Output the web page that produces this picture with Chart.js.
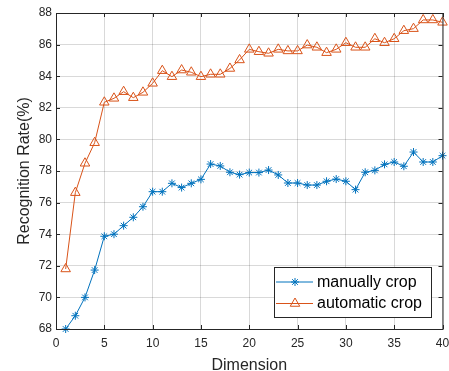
<!DOCTYPE html>
<html>
<head>
<meta charset="utf-8">
<script src="https://cdn.jsdelivr.net/npm/chart.js@4.4.1/dist/chart.umd.min.js"></script>
<style>
  html, body { margin: 0; padding: 0; background: #fff; }
  #wrap { width: 449px; height: 371px; position: relative; }
</style>
</head>
<body>
<div id="wrap"><canvas id="rateChart"></canvas></div>
<script>
// dimensions 1..40
const dims = [1, 2, 3, 4, 5, 6, 7, 8, 9, 10, 11, 12, 13, 14, 15, 16, 17, 18, 19, 20,
  21, 22, 23, 24, 25, 26, 27, 28, 29, 30, 31, 32, 33, 34, 35, 36, 37, 38, 39, 40]

const manualCrop = [68.0, 68.84, 70.0, 71.73, 73.87, 74.0, 74.54, 75.07, 75.74, 76.69,
  76.69, 77.22, 76.95, 77.22, 77.47, 78.44, 78.32, 77.92, 77.77, 77.9,
  77.9, 78.06, 77.75, 77.24, 77.24, 77.11, 77.11, 77.35, 77.49, 77.35,
  76.82, 77.92, 78.04, 78.42, 78.57, 78.3, 79.2, 78.57, 78.57, 78.97]

const automaticCrop = [71.8, 76.63, 78.49, 79.79, 82.35, 82.6, 83.02, 82.64, 82.98, 83.55,
  84.35, 83.97, 84.39, 84.25, 83.97, 84.12, 84.12, 84.49, 85.03, 85.7,
  85.55, 85.45, 85.7, 85.6, 85.6, 85.97, 85.83, 85.49, 85.7, 86.12,
  85.83, 85.83, 86.37, 86.12, 86.37, 86.88, 87.01, 87.56, 87.56, 87.41]

const seriesNames = ['manually crop', 'automatic crop']

const COLORS = {
  blue: '#0072BD',
  orange: '#D95319',
  axis: '#262626',
  grid: 'rgba(0,0,0,0.15)',
}
const FONT = "'Liberation Sans', Arial, sans-serif"

function drawMarker(ctx, ds, x, y) {
  ctx.save()
  ctx.strokeStyle = ds.borderColor
  ctx.fillStyle = 'rgba(0,0,0,0)'
  ctx.lineWidth = 1
  Chart.helpers.drawPoint(ctx, { pointStyle: ds.pointStyle, radius: ds.pointRadius, borderWidth: 1, rotation: 0 }, x, y)
  ctx.restore()
}

// box around the axes + inward ticks on all four sides, legend inside
const boxPlugin = {
  id: 'box',
  afterDatasetsDraw(chart) {
    const { ctx, chartArea: a, scales } = chart
    ctx.save()
    ctx.strokeStyle = COLORS.axis
    ctx.lineWidth = 1
    ctx.strokeRect(a.left + 0.5, a.top + 0.5, a.right - a.left, a.bottom - a.top)
    ctx.beginPath()
    scales.x.ticks.forEach(t => {
      const px = Math.round(scales.x.getPixelForValue(t.value)) + 0.5
      ctx.moveTo(px, a.bottom); ctx.lineTo(px, a.bottom - 4)
      ctx.moveTo(px, a.top); ctx.lineTo(px, a.top + 4)
    })
    scales.y.ticks.forEach(t => {
      const py = Math.round(scales.y.getPixelForValue(t.value)) + 0.5
      ctx.moveTo(a.left, py); ctx.lineTo(a.left + 4, py)
      ctx.moveTo(a.right, py); ctx.lineTo(a.right - 4, py)
    })
    ctx.stroke()
    ctx.restore()
  },
  afterDraw(chart) {
    const { ctx } = chart
    const bx = 274.5, by = 267.5, bw = 157, bh = 50
    ctx.save()
    ctx.fillStyle = '#fff'
    ctx.fillRect(bx, by, bw, bh)
    ctx.strokeStyle = COLORS.axis
    ctx.lineWidth = 1
    ctx.strokeRect(bx, by, bw, bh)
    chart.data.datasets.forEach((ds, i) => {
      const y = 282 + i * 21.5
      ctx.strokeStyle = ds.borderColor
      ctx.lineWidth = 1
      ctx.beginPath(); ctx.moveTo(276, y); ctx.lineTo(313, y); ctx.stroke()
      drawMarker(ctx, ds, 295, y)
      ctx.fillStyle = '#000'
      ctx.font = '16px ' + FONT
      ctx.textBaseline = 'middle'
      ctx.textAlign = 'left'
      ctx.fillText(ds.label, 317, y + 0.5)
    })
    ctx.restore()
  },
}

new Chart(document.getElementById('rateChart'), {
  type: 'line',
  data: {
    labels: dims,
    datasets: [
      {
        label: seriesNames[0],
        data: dims.map((d, i) => ({ x: d, y: manualCrop[i] })),
        borderColor: COLORS.blue,
        backgroundColor: 'rgba(0,0,0,0)',
        borderWidth: 1,
        pointStyle: 'star',
        pointRadius: 4,
        pointBorderWidth: 1,
        pointBorderColor: COLORS.blue,
        tension: 0,
        clip: false,
      },
      {
        label: seriesNames[1],
        data: dims.map((d, i) => ({ x: d, y: automaticCrop[i] })),
        borderColor: COLORS.orange,
        backgroundColor: 'rgba(0,0,0,0)',
        borderWidth: 1,
        pointStyle: 'triangle',
        pointRadius: 5.5,
        pointBorderWidth: 1,
        pointBorderColor: COLORS.orange,
        pointBackgroundColor: 'rgba(0,0,0,0)',
        tension: 0,
        clip: false,
      },
    ],
  },
  options: {
    responsive: true,
    maintainAspectRatio: false,
    animation: false,
    layout: { padding: { top: 13, right: 6, left: 0, bottom: 0 } },
    plugins: { legend: { display: false }, tooltip: { enabled: false } },
    scales: {
      x: {
        type: 'linear',
        min: 0,
        max: 40,
        afterFit: s => { s.height = 42; s.paddingLeft = 0; s.paddingRight = 0 },
        ticks: { stepSize: 5, color: COLORS.axis, padding: 7, font: { family: FONT, size: 12 } },
        grid: { color: COLORS.grid, drawTicks: false },
        border: { display: false },
        title: {
          display: true, text: 'Dimension', color: COLORS.axis,
          font: { family: FONT, size: 16, lineHeight: 1 }, padding: { top: 0, bottom: -2.5 },
        },
      },
      y: {
        min: 68,
        max: 88,
        afterFit: s => { s.width = 56; s.paddingTop = 0; s.paddingBottom = 0 },
        ticks: { stepSize: 2, color: COLORS.axis, padding: 4, font: { family: FONT, size: 12 } },
        grid: { color: COLORS.grid, drawTicks: false },
        border: { display: false },
        title: {
          display: true, text: 'Recognition Rate(%)', color: COLORS.axis,
          font: { family: FONT, size: 16, lineHeight: 1 }, padding: { top: 17, bottom: 0 },
        },
      },
    },
  },
  plugins: [boxPlugin],
})
</script>
</body>
</html>
